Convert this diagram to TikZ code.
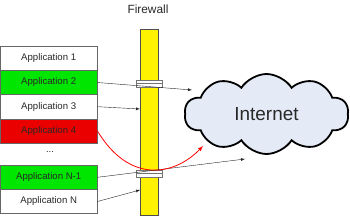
\documentclass[tikz,border=0pt]{standalone}
\usepackage{fontspec}
\setmainfont{Liberation Sans}
\usepackage{tikz}
\usetikzlibrary{positioning, shapes.symbols}
\usetikzlibrary{arrows}

\definecolor{appgreen}{RGB}{0,230,0}
\definecolor{appred}{RGB}{235,0,0}
\definecolor{cloudblue}{RGB}{228,234,246}
\definecolor{txtgray}{RGB}{40,40,40}

\begin{document}
\begin{tikzpicture}[
    x=1pt, y=-1pt,
    app/.style={rectangle, draw=black!60, minimum width=97pt, minimum height=24.2pt, inner sep=0pt, anchor=north west, font=\fontsize{9.6}{10}\selectfont, text=txtgray},
    okapp/.style={app, fill=appgreen},
    badapp/.style={app, fill=appred},
    plain/.style={app, fill=white},
    ring/.style={rectangle, draw=black!55, fill=white, minimum width=26pt, minimum height=3.5pt, inner sep=0pt},
    link/.style={black!85, thin, -latex},
]
    \useasboundingbox (0,0) rectangle (350,216);

    % --- Applications
    \node[plain]  (app1)  at (0, 46)    {Application 1};
    \node[okapp]  (app2)  at (0, 70.2)  {Application 2};
    \node[plain]  (app3)  at (0, 94.4)  {Application 3};
    \node[badapp] (app4)  at (0, 118.6) {Application 4};
    \node[text=txtgray, font=\fontsize{9.6}{10}\selectfont] (dots) at (50, 152) {...};
    \node[okapp]  (appN1) at (0, 165)   {Application N-1};
    \node[plain]  (appN)  at (0, 189.2) {Application N};

    % --- Firewall
    \node[rectangle, draw=black!70, fill=yellow, minimum width=18pt, minimum height=186pt, inner sep=0pt, anchor=north] (fw) at (149, 29) {};
    \node[font=\fontsize{11.9}{12}\selectfont, text=txtgray] (fwlabel) at (148, 9) {Firewall};

    % --- Holes in the firewall
    \node[ring] (ringA1) at (149, 81.7) {};
    \node[ring] (ringA2) at (149, 85.2) {};
    \node[ring] (ringB1) at (149, 171.7) {};
    \node[ring] (ringB2) at (149, 175.2) {};

    % --- Internet
    \node[cloud, cloud puffs=10, cloud puff arc=115, aspect=2, draw=black, line width=1.8pt, fill=cloudblue, minimum width=164pt, minimum height=80pt, font=\fontsize{18.9}{20}\selectfont, text=txtgray] (inet) at (266.5, 114) {Internet};

    \coordinate (hitA) at (192, 90);
    \coordinate (hitB) at (245, 159);
    \coordinate (hitR) at (203, 146);
    \coordinate (wall3) at (140, 109);
    \coordinate (wallN) at (140, 190);

    \draw[link] (app2.east) -- (hitA);
    \draw[link] (app3.east) -- (wall3);
    \draw[link] (appN1.east) -- (hitB);
    \draw[link] (appN.east) -- (wallN);
    \draw[red, thick, -latex] (app4.east) .. controls (130, 185) and (175, 175) .. (hitR);

\end{tikzpicture}
\end{document}
